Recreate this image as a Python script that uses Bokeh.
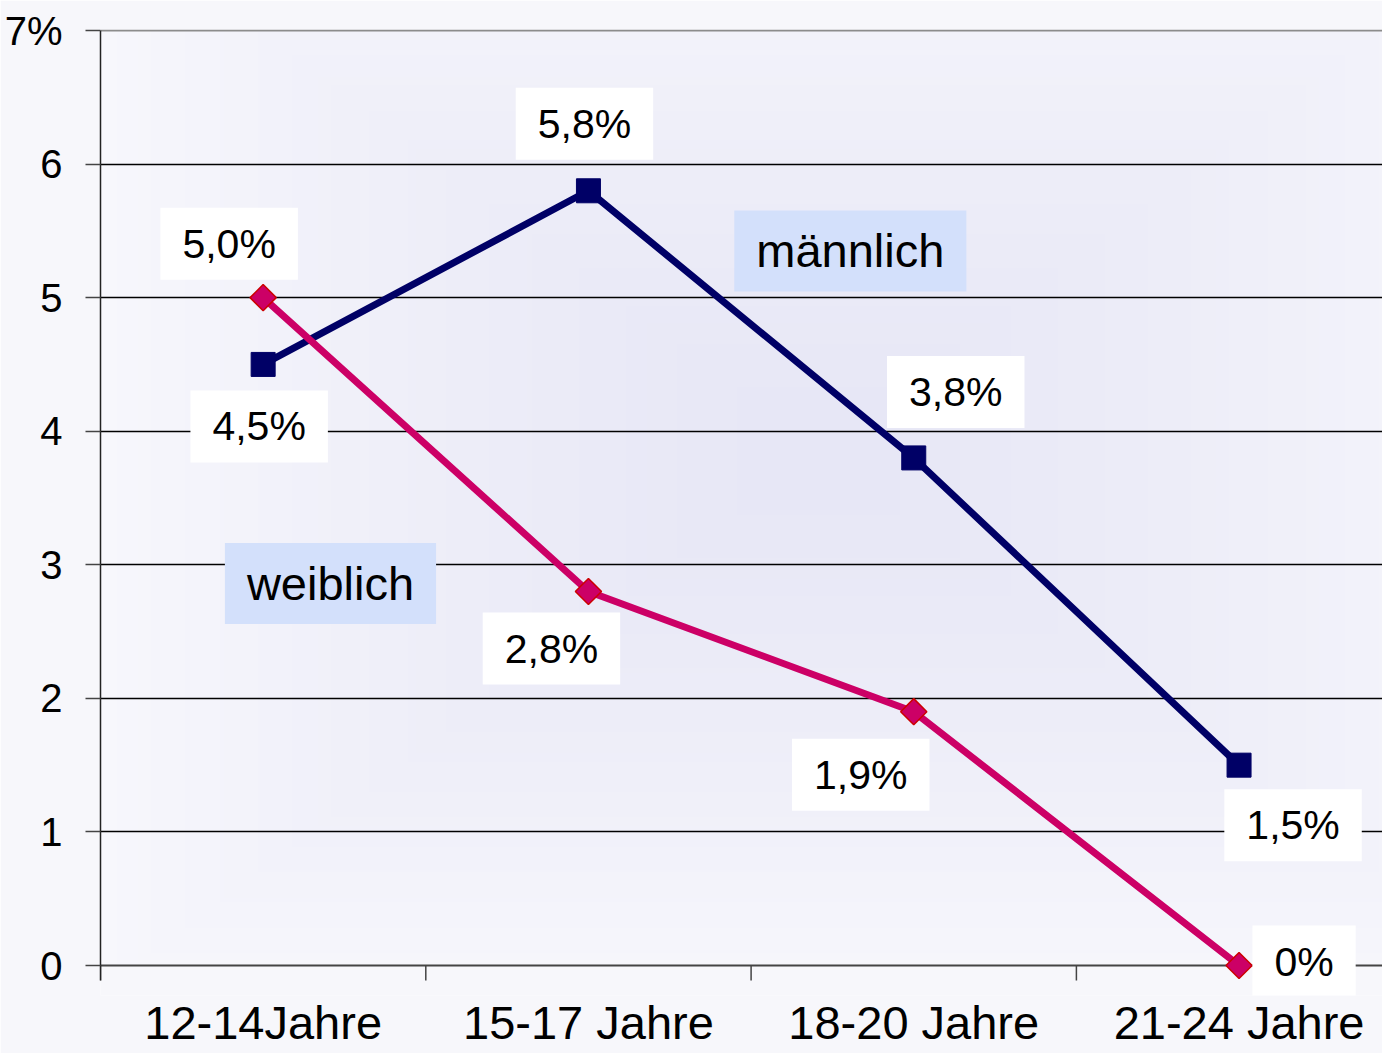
import numpy as np
from bokeh.plotting import figure
from bokeh.models import Range1d, FixedTicker, Label, Span, Grid
from bokeh.embed import file_html
from bokeh.resources import INLINE

# ---- data ----
categories = ["12-14Jahre", "15-17 Jahre", "18-20 Jahre", "21-24 Jahre"]
maennlich = [4.5, 5.8, 3.8, 1.5]
weiblich = [5.0, 2.8, 1.9, 0.0]
maennlich_labels = ["4,5%", "5,8%", "3,8%", "1,5%"]
weiblich_labels = ["5,0%", "2,8%", "1,9%", "0%"]
y_ticks = [0, 1, 2, 3, 4, 5, 6, 7]
series_names = ["männlich", "weiblich"]

FONT = "Liberation Sans"
NAVY = "#000066"
MAGENTA = "#CC0066"
AXIS_GREY = "#444444"

W, H = 1382, 1053
LEFT, TOP, BOTTOM = 100, 29, 58
PX_X = 325.3            # pixels per category
PX_Y = 935.0 / 7        # pixels per percent
BELOW = 30              # frame space below the zero line (px)
TICK = 15               # tick length (px)

xs = [i + 0.5 for i in range(len(categories))]
bounds = list(range(len(categories)))
x_end = (W - LEFT) / PX_X
y_start = -BELOW / PX_Y
y_end = y_ticks[-1] + 1 / PX_Y

p = figure(width=W, height=H, output_backend="svg", toolbar_location=None,
           x_range=Range1d(0, x_end), y_range=Range1d(y_start, y_end),
           min_border_left=LEFT, min_border_right=0, min_border_top=TOP,
           min_border_bottom=BOTTOM)
p.border_fill_color = "#f7f7fb"
p.background_fill_color = "#f7f7fb"
p.outline_line_color = None

# background gradient (style only)
nx, ny = 300, 220
gx = np.linspace(0, 1, nx)
gy = np.linspace(0, 1, ny)
X, Y = np.meshgrid(gx, gy)
d = np.maximum(np.abs(X - 0.56) / 0.6, np.abs(Y - 0.55) / 0.62)
d = np.clip(d, 0, 1) ** 1.3
c0 = np.array([231, 231, 246])
c1 = np.array([249, 249, 253])
img = np.empty((ny, nx), dtype=np.uint32)
view = img.view(dtype=np.uint8).reshape((ny, nx, 4))
for k in range(3):
    view[:, :, k] = (c0[k] + (c1[k] - c0[k]) * d).astype(np.uint8)
view[:, :, 3] = 255
bg = p.image_rgba(image=[img], x=0, y=0, dw=x_end, dh=y_ticks[-1])
bg.level = "image"

# y axis
p.yaxis.ticker = FixedTicker(ticks=y_ticks)
p.yaxis.bounds = (-TICK / PX_Y, y_ticks[-1])
p.yaxis.major_label_overrides = {y_ticks[-1]: f"{y_ticks[-1]}%"}
p.yaxis.major_tick_out = TICK
p.yaxis.major_tick_in = 0
p.yaxis.minor_tick_out = 0
p.yaxis.major_label_standoff = 23
p.yaxis.major_label_text_font = FONT
p.yaxis.major_label_text_font_size = "40px"
p.yaxis.major_label_text_color = "black"
p.yaxis.axis_line_color = "#222222"
p.yaxis.axis_line_width = 1.5
p.yaxis.major_tick_line_color = AXIS_GREY
p.yaxis.major_tick_line_width = 1.5

# x axis: category labels only; the zero line and ticks are drawn at y=0
p.xaxis.ticker = FixedTicker(ticks=xs)
p.xaxis.major_label_overrides = {x: c for x, c in zip(xs, categories)}
p.xaxis.major_tick_line_color = None
p.xaxis.minor_tick_line_color = None
p.xaxis.major_tick_out = 0
p.xaxis.major_tick_in = 0
p.xaxis.axis_line_color = None
p.xaxis.major_label_standoff = 0
p.xaxis.major_label_text_font = FONT
p.xaxis.major_label_text_font_size = "47px"
p.xaxis.major_label_text_color = "black"

zero_line = Span(location=0, dimension="width", line_color=AXIS_GREY, line_width=2)
zero_line.level = "underlay"
p.add_layout(zero_line)
p.segment(x0=bounds, y0=[0] * len(bounds), x1=bounds, y1=[-TICK / PX_Y] * len(bounds),
          line_color=AXIS_GREY, line_width=1.5)

# grid
p.xgrid.grid_line_color = None
p.ygrid.ticker = FixedTicker(ticks=y_ticks[1:-1])
p.ygrid.grid_line_color = "black"
p.ygrid.grid_line_width = 1.3
p.add_layout(Grid(dimension=1, ticker=FixedTicker(ticks=[y_ticks[-1]]),
                  grid_line_color="#8c8c8c", grid_line_width=2))

# series lines & markers
p.line(xs, maennlich, line_color=NAVY, line_width=7)
p.scatter(xs, maennlich, marker="square", size=24, fill_color=NAVY, line_color=NAVY)
p.line(xs, weiblich, line_color=MAGENTA, line_width=7)
p.scatter(xs, weiblich, marker="square", angle=np.pi / 4, size=18.5,
          fill_color=MAGENTA, line_color="#CC0000", line_width=1.5)

# value labels (offsets in screen px are style; positive dy = downwards)
m_dx = [-4, -4, 42, 54]
m_dy = [62, -67, -66, 60]
w_dx = [-34, -37, -53, 65]
w_dy = [-54, 57, 63, -4]

for vals, labels, dxs, dys in ((maennlich, maennlich_labels, m_dx, m_dy),
                               (weiblich, weiblich_labels, w_dx, w_dy)):
    for x, v, t, dx, dy in zip(xs, vals, labels, dxs, dys):
        p.add_layout(Label(x=x, y=v, text=t, x_offset=dx, y_offset=-dy,
                           text_font=FONT, text_font_size="41px", text_color="black",
                           text_align="center", text_baseline="middle",
                           background_fill_color="white", padding=(22, 13)))

# series name boxes
leg_x = [2.305, 0.707]
leg_y = [5.35, 2.86]
for x, y, t in zip(leg_x, leg_y, series_names):
    p.add_layout(Label(x=x, y=y, text=t,
                       text_font=FONT, text_font_size="47px", text_color="black",
                       text_align="center", text_baseline="middle",
                       background_fill_color="#d3e0fb", padding=(22, 14)))

open("out.html", "w").write(file_html(p, INLINE))
